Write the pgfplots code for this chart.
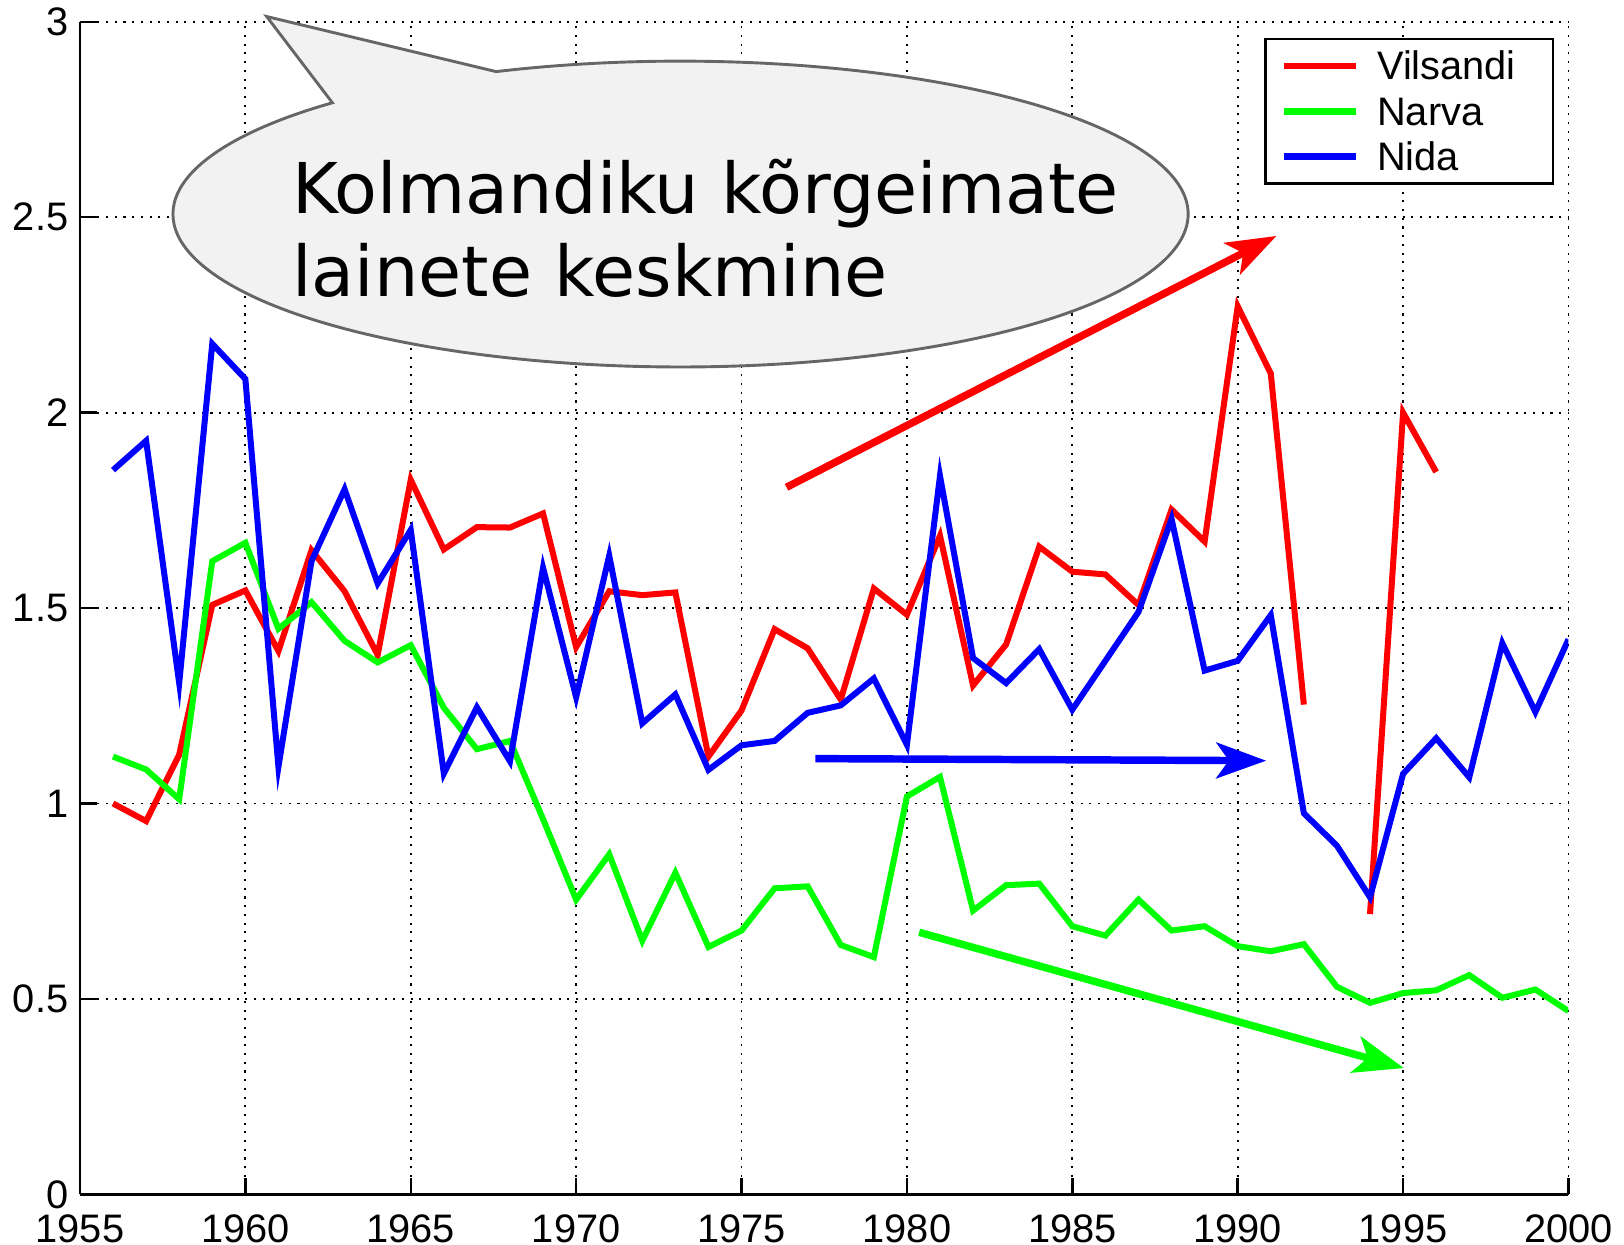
\documentclass[border=0pt]{standalone}
\usepackage{fontspec}
\setmainfont{Liberation Sans}
\newfontfamily\bubblefont{DejaVu Sans}
\usepackage{pgfplots}
\pgfplotsset{compat=1.18}
\usepackage{pgfplotstable}
\usetikzlibrary{arrows.meta}

\definecolor{mred}{RGB}{255,0,0}
\definecolor{mgreen}{RGB}{0,255,0}
\definecolor{mblue}{RGB}{0,0,255}
\definecolor{bubblefill}{RGB}{242,242,242}
\definecolor{bubbleline}{RGB}{102,102,102}

\pgfplotstableread{
year v
1956 1.00
1957 0.955
1958 1.125
1959 1.508
1960 1.545
1961 1.39
1962 1.648
1963 1.543
1964 1.38
1965 1.828
1966 1.65
1967 1.707
1968 1.706
1969 1.742
1970 1.40
1971 1.543
1972 1.533
1973 1.54
1974 1.12
1975 1.238
1976 1.446
1977 1.397
1978 1.266
1979 1.55
1980 1.483
1981 1.685
1982 1.302
1983 1.407
1984 1.657
1985 1.593
1986 1.586
1987 1.508
1988 1.752
1989 1.67
1990 2.272
1991 2.10
1992 1.253
1993 nan
1994 0.717
1995 2.00
1996 1.848
}\tabVilsandi

\pgfplotstableread{
year v
1956 1.12
1957 1.087
1958 1.011
1959 1.62
1960 1.667
1961 1.447
1962 1.515
1963 1.416
1964 1.361
1965 1.405
1966 1.245
1967 1.139
1968 1.16
1969 0.96
1970 0.754
1971 0.87
1972 0.649
1973 0.823
1974 0.633
1975 0.675
1976 0.783
1977 0.788
1978 0.638
1979 0.607
1980 1.018
1981 1.068
1982 0.726
1983 0.791
1984 0.795
1985 0.686
1986 0.662
1987 0.754
1988 0.675
1989 0.686
1990 0.635
1991 0.622
1992 0.64
1993 0.531
1994 0.49
1995 0.515
1996 0.522
1997 0.561
1998 0.503
1999 0.524
2000 0.469
}\tabNarva

\pgfplotstableread{
year v
1956 1.853
1957 1.928
1958 1.308
1959 2.176
1960 2.086
1961 1.094
1962 1.62
1963 1.804
1964 1.563
1965 1.70
1966 1.077
1967 1.246
1968 1.108
1969 1.603
1970 1.272
1971 1.634
1972 1.205
1973 1.279
1974 1.086
1975 1.149
1976 1.16
1977 1.232
1978 1.251
1979 1.32
1980 1.15
1981 1.838
1982 1.372
1983 1.308
1984 1.395
1985 1.24
1986 1.365
1987 1.49
1988 1.728
1989 1.34
1990 1.365
1991 1.482
1992 0.975
1993 0.892
1994 0.76
1995 1.076
1996 1.167
1997 1.067
1998 1.41
1999 1.234
2000 1.42
}\tabNida

\begin{document}
\begin{tikzpicture}
\begin{axis}[
  scale only axis, width=359.25pt, height=283pt,
  xmin=1955, xmax=2000, ymin=0, ymax=3,
  enlargelimits=false,
  axis x line=bottom, axis y line=left,
  axis line style={-, line width=0.6pt, black},
  xtick={1955,1960,1965,1970,1975,1980,1985,1990,1995,2000},
  ytick={0,0.5,1,1.5,2,2.5,3},
  tick align=inside, major tick length=4pt,
  tick style={line width=0.6pt, black},
  grid=major,
  major grid style={black, line width=0.45pt, dash pattern=on 0.5pt off 1.6pt},
  tick label style={font=\fontsize{9.6}{11}\selectfont},
  /pgf/number format/assume math mode=true,
  xticklabel style={/pgf/number format/1000 sep={}, yshift=-1.3pt},
  yticklabel style={xshift=0.7pt},
  unbounded coords=jump,
  legend style={
    at={(rel axis cs:0.7955,0.9864)}, anchor=north west,
    draw=black, line width=0.6pt, fill=white,
    inner xsep=3.8pt, inner ysep=1.1pt,
    font=\fontsize{9.6}{11}\selectfont,
    column sep=4.2pt, row sep=0pt,
    nodes={inner sep=0pt, text height=8.8pt, text depth=2.1pt},
  },
  legend image code/.code={\draw[#1, line width=1.6pt] (0pt,0pt) -- (17.4pt,0pt);},
]
\addplot[mred, line width=1.45pt] table[x=year, y=v] {\tabVilsandi};
\addlegendentry{\makebox[38.6pt][l]{Vilsandi}}
\addplot[mgreen, line width=1.45pt] table[x=year, y=v] {\tabNarva};
\addlegendentry{\makebox[38.6pt][l]{Narva}}
\addplot[mblue, line width=1.45pt] table[x=year, y=v] {\tabNida};
\addlegendentry{\makebox[38.6pt][l]{Nida}}

\draw[mred, line width=1.8pt, -{Stealth[length=12pt, width=8.5pt, inset=3pt]}]
  (axis cs:1976.36,1.809) -- (axis cs:1991.17,2.452);
\draw[mblue, line width=1.8pt, -{Stealth[length=12pt, width=8.6pt, inset=3pt]}]
  (axis cs:1977.23,1.1148) -- (axis cs:1990.86,1.1095);
\draw[mgreen, line width=1.8pt, -{Stealth[length=12pt, width=9pt, inset=3pt]}]
  (axis cs:1980.37,0.6705) -- (axis cs:1995.02,0.3231);

\coordinate (C) at (axis cs:1973.155,2.508);
\coordinate (bl) at (rel axis cs:0,0);
\coordinate (tr) at (rel axis cs:1,1);
\end{axis}

\begin{scope}[shift={(C)}]
\filldraw[fill=bubblefill, draw=bubbleline, line width=0.7pt, line join=miter]
  (-99.875pt,47.675pt) -- (-44.5pt,34.38pt)
  arc[start angle=111.3, end angle=-226.7, x radius=122.5pt, y radius=36.9pt]
  -- cycle;
\node[anchor=base west, inner sep=0pt, font=\bubblefont\fontsize{16.9}{20}\selectfont]
  at (-93.9pt,0.1pt) {Kolmandiku kõrgeimate};
\node[anchor=base west, inner sep=0pt, font=\bubblefont\fontsize{16.9}{20}\selectfont]
  at (-93.9pt,-19.9pt) {lainete keskmine};
\end{scope}

\pgfresetboundingbox
\useasboundingbox ([shift={(-19.3pt,-12.2pt)}]bl) rectangle ([shift={(13.4pt,5.25pt)}]tr);
\end{tikzpicture}
\end{document}
